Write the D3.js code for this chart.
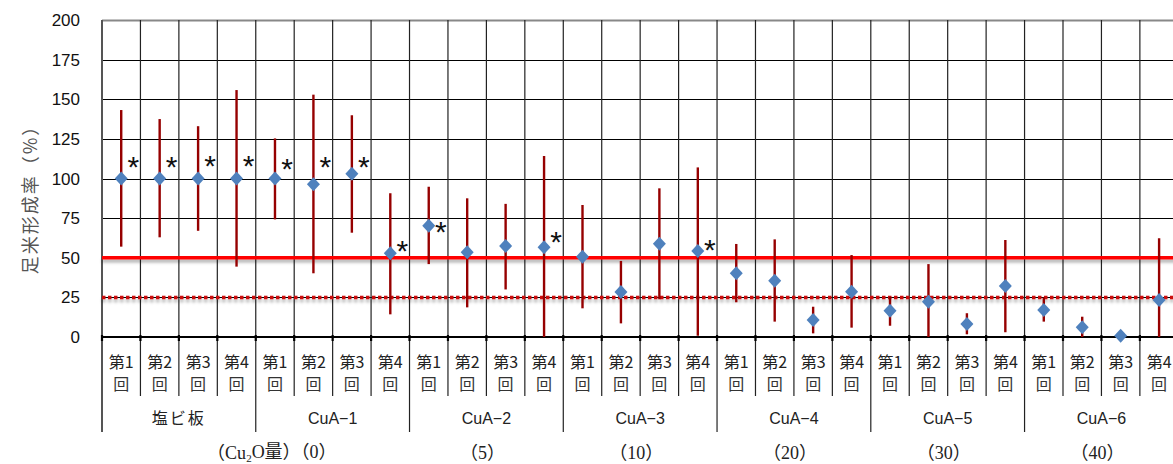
<!DOCTYPE html>
<html>
<head>
<meta charset="utf-8">
<script src="https://cdn.jsdelivr.net/npm/d3@7"></script>
<style>
  html, body { margin: 0; padding: 0; background: #fff; }
  svg { display: block; }
</style>
</head>
<body>
<svg id="chart" width="1173" height="464"></svg>
<script>
// ---- data ----
const groups = ["塩ビ板", "CuA−1", "CuA−2", "CuA−3", "CuA−4", "CuA−5", "CuA−6"];
const cu2oAmounts = ["", "0", "5", "10", "20", "30", "40"];
const rounds = ["第1", "第2", "第3", "第4"];
const roundSuffix = "回";
const meanValues = [100, 100, 100, 100, 100, 96.3, 103, 52.8, 70.2, 53.4, 57.4, 56.6, 50.7, 28.4, 58.9, 54.3, 40.2, 35.5, 10.7, 28.6, 16.6, 22.3, 8.2, 32.2, 17, 6.1, 0.8, 23.3];
const upperValues = [143.2, 137.5, 133, 155.8, 125.3, 152.9, 139.9, 90.7, 94.8, 87.5, 84, 114.2, 83.3, 48, 93.8, 107, 58.7, 61.6, 19.1, 51.7, 25.4, 46, 15, 61.2, 25, 12.8, 0.8, 62.3];
const lowerValues = [57, 62.9, 67, 44.4, 74.2, 40.2, 65.8, 14.3, 46, 18.7, 30, 0, 18.1, 8.6, 23.8, 0.8, 21.9, 9.7, 2.3, 5.9, 7.1, 0, 1.7, 3, 9.7, 0, 0.8, 0];
const starIndex = [0, 1, 2, 3, 4, 5, 6, 7, 8, 11, 15];
const starValues = [112, 112, 113, 113, 111, 112, 112, 59, 71, 65, 60];
const yTicks = [0, 25, 50, 75, 100, 125, 150, 175, 200];
const refSolid = 50;
const refDotted = 25;

(function () {
// ---- layout ----
const svg = d3.select("#chart");
const W = 1173, H = 464;
const left = 102, plotTop = 20, bottom = 337;
const step = 38.44;
const nCat = groups.length * rounds.length;
const cats = d3.range(nCat);

const x = d3.scaleBand().domain(cats).range([left, left + step * nCat]).paddingInner(0).paddingOuter(0);
const y = d3.scaleLinear().domain([0, 200]).range([bottom, plotTop]);

const defs = svg.append("defs");
const f = defs.append("filter").attr("id", "shadow").attr("filterUnits", "userSpaceOnUse")
  .attr("x", 0).attr("y", 0).attr("width", W).attr("height", H);
f.append("feDropShadow").attr("dx", 0).attr("dy", 3).attr("stdDeviation", 1.6).attr("flood-color", "#000").attr("flood-opacity", 0.3);

const right = left + step * nCat;

// horizontal gridlines
svg.append("g").selectAll("line").data(yTicks.filter(d => d > 0)).join("line")
  .attr("x1", left).attr("x2", right)
  .attr("y1", d => Math.round(y(d)) + 0.5).attr("y2", d => Math.round(y(d)) + 0.5)
  .attr("stroke", d => d === 200 ? "#888" : "#000").attr("stroke-width", d => d === 200 ? 2 : 1.2);

// vertical gridlines (category boundaries) in plot + label area
const bounds = d3.range(nCat + 1);
svg.append("g").selectAll("line").data(bounds).join("line")
  .attr("x1", i => left + i * step).attr("x2", i => left + i * step)
  .attr("y1", plotTop).attr("y2", i => (i % 4 === 0) ? 432 : 396)
  .attr("stroke", "#222").attr("stroke-width", 1.2);

// left axis line
svg.append("line").attr("x1", left).attr("x2", left).attr("y1", plotTop).attr("y2", 432)
  .attr("stroke", "#555").attr("stroke-width", 2);

// y tick labels
svg.append("g").selectAll("text").data(yTicks).join("text")
  .attr("x", 80).attr("y", d => y(d)).attr("dy", "0.36em")
  .attr("text-anchor", "end")
  .attr("font-family", "'Liberation Sans', Arial, sans-serif").attr("font-size", 17).attr("fill", "#111")
  .text(d => d);

// y title
svg.append("text")
  .attr("transform", "translate(31,195) rotate(-90)")
  .attr("text-anchor", "middle").attr("dy", "0.35em")
  .attr("font-family", "'Noto Sans CJK JP', sans-serif").attr("font-size", 18).attr("fill", "#555")
  .attr("letter-spacing", 2)
  .text("足米形成率（%）");

// reference lines
svg.append("line").attr("x1", left).attr("x2", right).attr("y1", y(refDotted)).attr("y2", y(refDotted))
  .attr("stroke", "#cc1010").attr("stroke-width", 3.5).attr("stroke-dasharray", "3.5,2.5").attr("filter", "url(#shadow)");
svg.append("line").attr("x1", left).attr("x2", right).attr("y1", y(refSolid)).attr("y2", y(refSolid))
  .attr("stroke", "#ff0000").attr("stroke-width", 3.5).attr("filter", "url(#shadow)");

// x axis line
svg.append("line").attr("x1", left).attr("x2", right).attr("y1", bottom).attr("y2", bottom)
  .attr("stroke", "#000").attr("stroke-width", 2);
svg.append("g").selectAll("line").data(bounds).join("line")
  .attr("x1", i => left + i * step).attr("x2", i => left + i * step)
  .attr("y1", bottom - 2).attr("y2", bottom + 4)
  .attr("stroke", "#000").attr("stroke-width", 2.2);

// error bars
const cx = i => x(i) + x.bandwidth() / 2;
svg.append("g").selectAll("line").data(cats).join("line")
  .attr("x1", cx).attr("x2", cx)
  .attr("y1", i => y(upperValues[i])).attr("y2", i => y(lowerValues[i]))
  .attr("stroke", "#960000").attr("stroke-width", 2.4);

// diamonds
svg.append("g").selectAll("path").data(cats).join("path")
  .attr("d", i => {
    const px = cx(i), py = y(meanValues[i]);
    return `M${px},${py - 7}L${px + 6.5},${py}L${px},${py + 7}L${px - 6.5},${py}Z`;
  })
  .attr("fill", "#4f81bd");

// asterisks
svg.append("g").selectAll("text").data(starIndex).join("text")
  .attr("x", (d, k) => cx(d) + 12).attr("y", (d, k) => y(starValues[k]) + 18)
  .attr("text-anchor", "middle")
  .attr("font-family", "'Liberation Sans', Arial, sans-serif").attr("font-size", 30).attr("fill", "#111")
  .text("*");

// category labels
const catLabels = svg.append("g").attr("font-family", "'Noto Sans CJK JP', sans-serif").attr("fill", "#222");
catLabels.selectAll("text.r").data(cats).join("text").attr("class", "r")
  .attr("x", cx).attr("y", 362).attr("dy", "0.35em").attr("text-anchor", "middle").attr("font-size", 16)
  .text(i => rounds[i % 4]);
catLabels.selectAll("text.k").data(cats).join("text").attr("class", "k")
  .attr("x", cx).attr("y", 384).attr("dy", "0.35em").attr("text-anchor", "middle").attr("font-size", 16)
  .attr("fill", "#333")
  .text(roundSuffix);

// group labels
const gx = g => left + (g * 4 + 2) * step;
svg.append("g").selectAll("text").data(d3.range(groups.length)).join("text")
  .attr("x", gx).attr("y", 418).attr("dy", "0.35em").attr("text-anchor", "middle")
  .attr("font-family", g => g === 0 ? "'Noto Sans CJK JP', sans-serif" : "'Liberation Sans', Arial, sans-serif")
  .attr("letter-spacing", g => g === 0 ? 2 : 0)
  .attr("font-size", 16).attr("fill", "#222")
  .text(g => groups[g]);

// Cu2O amount labels
const amt = svg.append("g").attr("font-family", "'Liberation Serif', 'Noto Sans CJK JP', serif").attr("font-size", 18).attr("fill", "#222");
d3.range(2, groups.length).forEach(g => {
  amt.append("text").attr("x", gx(g) - 4).attr("y", 453).attr("dy", "0.35em").attr("text-anchor", "middle")
    .text("（" + cu2oAmounts[g] + "）");
});
const first = amt.append("text").attr("x", gx(1) + 4).attr("y", 453).attr("dy", "0.35em").attr("text-anchor", "end");
first.append("tspan").text("（Cu");
first.append("tspan").attr("font-size", 11).attr("dy", "0.25em").text("2");
first.append("tspan").attr("dy", "-0.25em").text("O量）（" + cu2oAmounts[1] + "）");
})();
</script>
</body>
</html>
